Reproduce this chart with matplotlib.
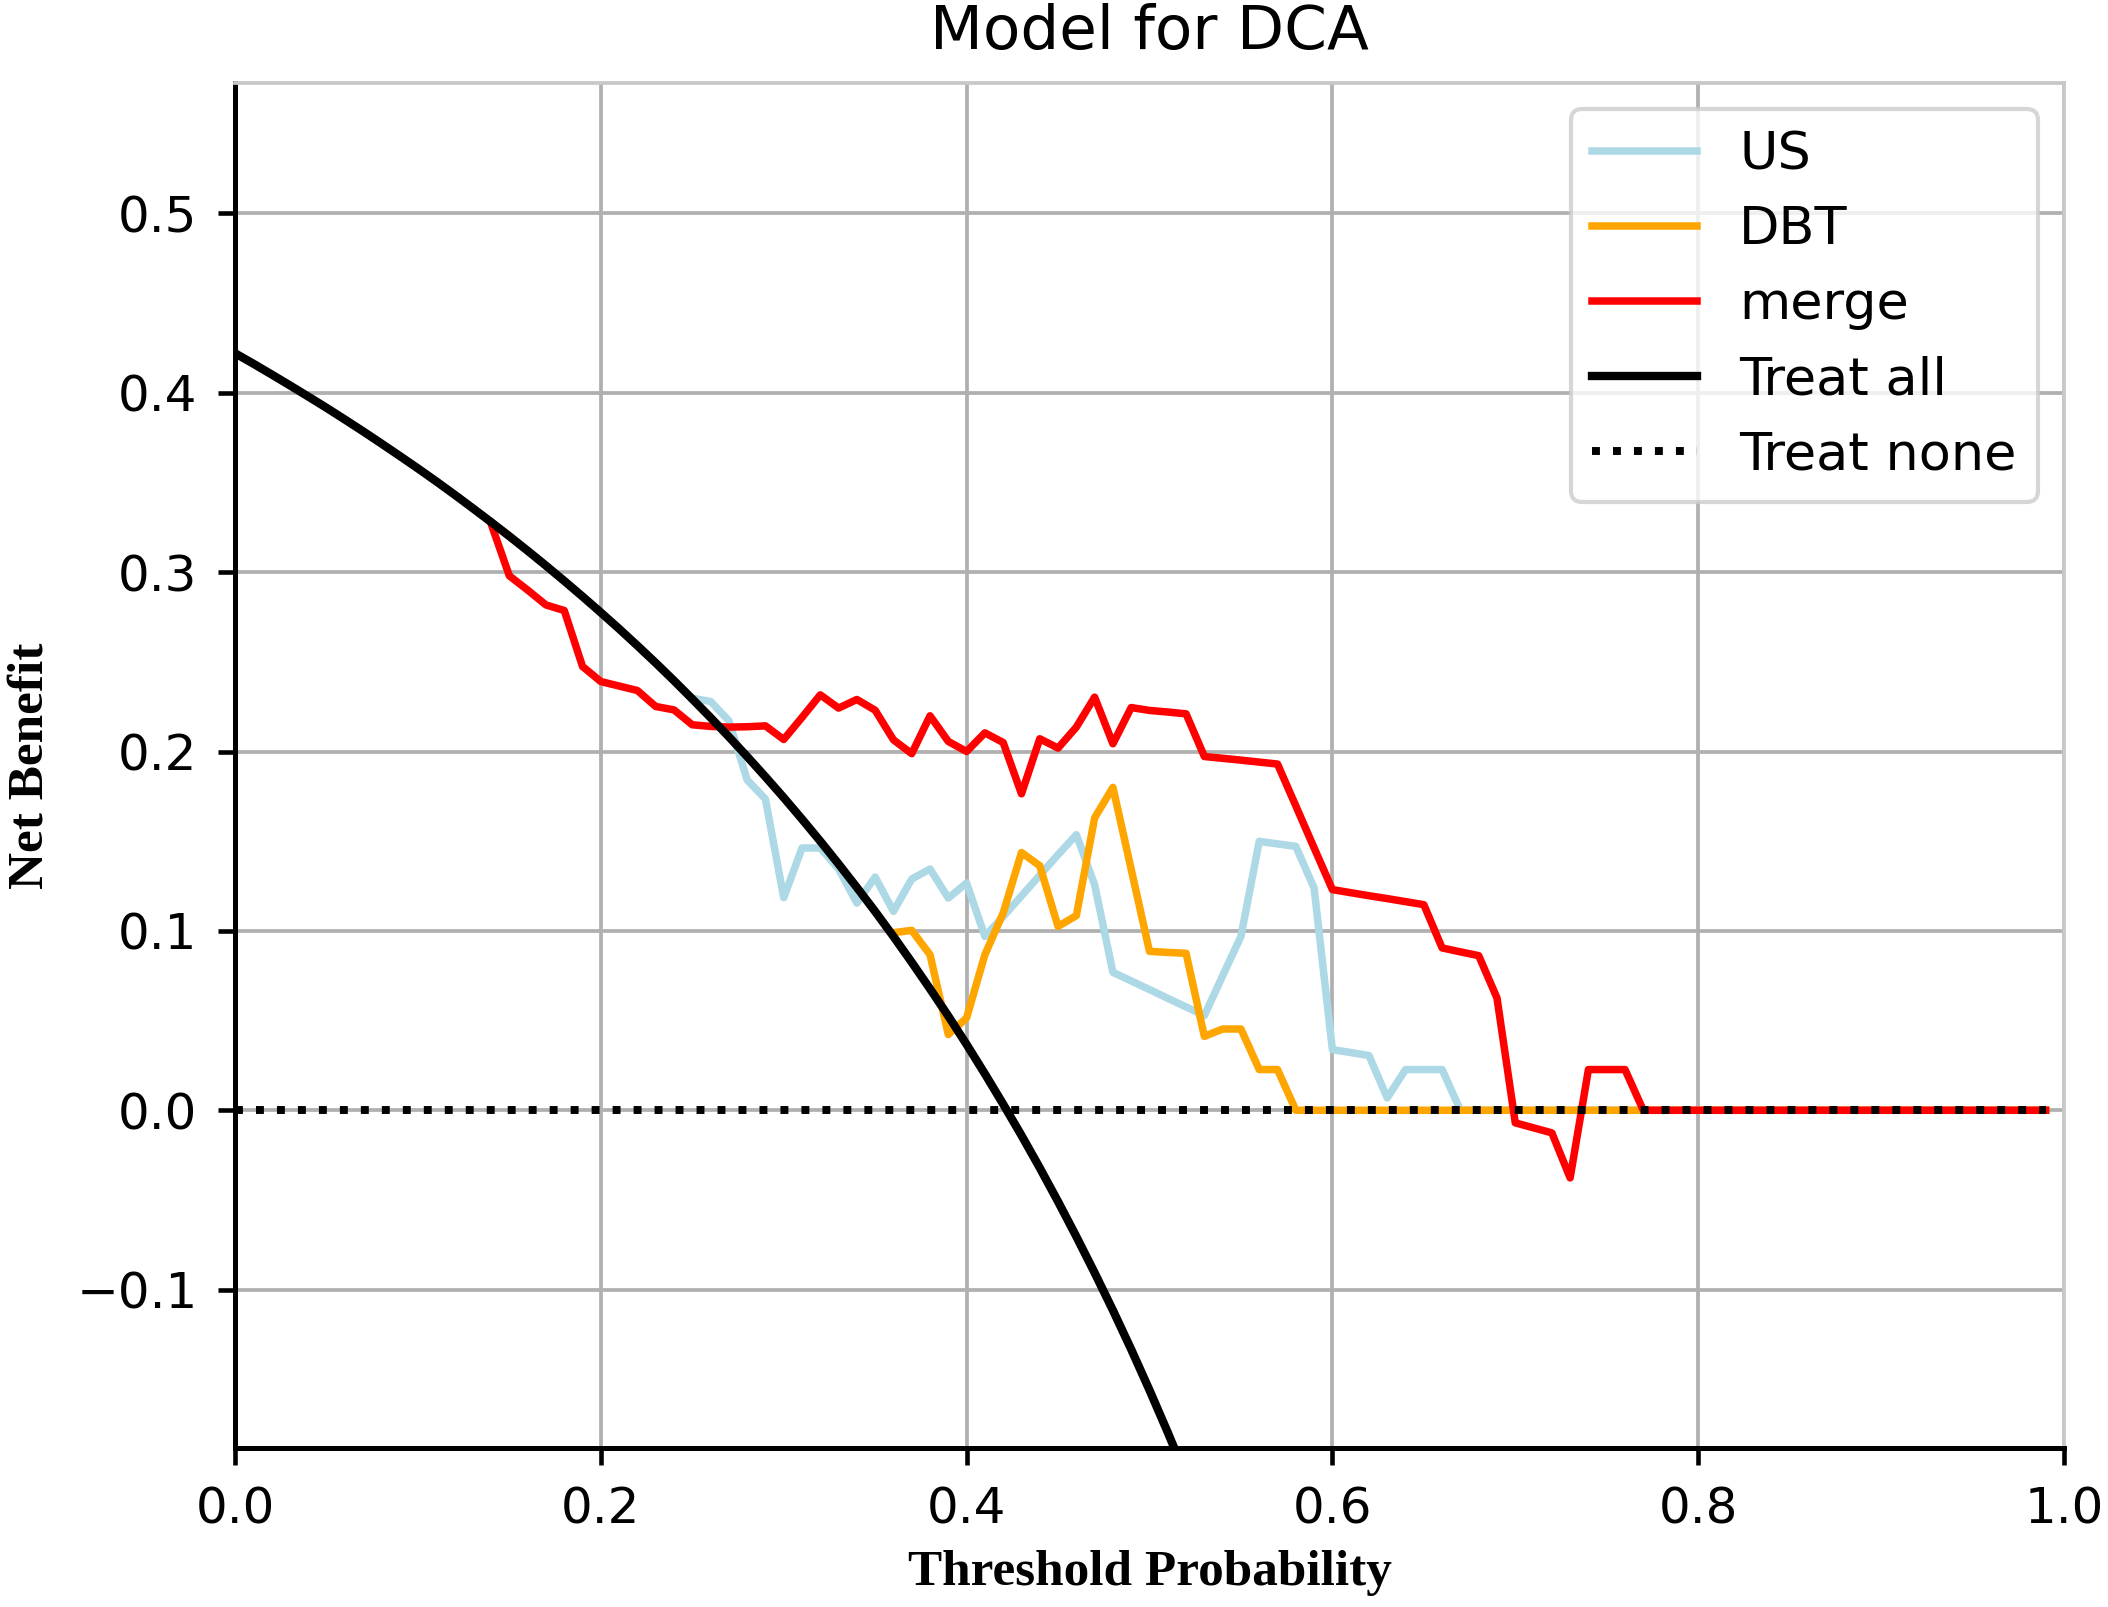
import numpy as np
import matplotlib
matplotlib.use("Agg")
import matplotlib.pyplot as plt

# ---- data ----
thresholds = np.arange(100) / 100.0  # 0.00 ... 0.99

treat_all = [0.4220, 0.4162, 0.4102, 0.4041, 0.3979, 0.3916, 0.3851, 0.3785, 0.3717, 0.3648,
             0.3578, 0.3506, 0.3432, 0.3356, 0.3279, 0.3200, 0.3119, 0.3036, 0.2951, 0.2864,
             0.2775, 0.2684, 0.2590, 0.2494, 0.2395, 0.2293, 0.2189, 0.2082, 0.1972, 0.1859,
             0.1743, 0.1623, 0.1500, 0.1373, 0.1242, 0.1108, 0.0969, 0.0825, 0.0677, 0.0525,
             0.0367, 0.0203, 0.0034, -0.0140, -0.0321, -0.0509, -0.0704, -0.0906, -0.1115, -0.1333,
             -0.1560, -0.1796, -0.2042, -0.2298]

us_start = 25
us_values = [0.2297, 0.2279, 0.2172, 0.1842, 0.1735, 0.1185, 0.1462, 0.1462, 0.1345, 0.1155,
             0.1300, 0.1109, 0.1289, 0.1345, 0.1183, 0.1267, 0.0969, 0.1080, 0.1195, 0.1310,
             0.1425, 0.1536, 0.1257, 0.0769, 0.0721, 0.0673, 0.0624, 0.0576, 0.0528, 0.0750,
             0.0969, 0.1499, 0.1485, 0.1471, 0.1239, 0.0338, 0.0322, 0.0305, 0.0069, 0.0227,
             0.0227, 0.0227] + [0.0] * 33

dbt_start = 36
dbt_values = [0.0990, 0.1003, 0.0867, 0.0422, 0.0515, 0.0867, 0.1100, 0.1437, 0.1363, 0.1025,
              0.1085, 0.1630, 0.1800, 0.1343, 0.0886, 0.0880, 0.0875, 0.0412, 0.0453, 0.0453,
              0.0227, 0.0227] + [0.0] * 42

merge_start = 14
merge_values = [0.3270, 0.2979, 0.2900, 0.2817, 0.2786, 0.2474, 0.2390, 0.2365, 0.2340, 0.2251,
                0.2232, 0.2149, 0.2140, 0.2136, 0.2138, 0.2143, 0.2067, 0.2190, 0.2316, 0.2242,
                0.2290, 0.2230, 0.2065, 0.1988, 0.2199, 0.2056, 0.2000, 0.2104, 0.2050, 0.1764,
                0.2071, 0.2019, 0.2136, 0.2303, 0.2043, 0.2245, 0.2229, 0.2220, 0.2210, 0.1972,
                0.1962, 0.1952, 0.1941, 0.1930, 0.1697, 0.1463, 0.1230, 0.1213, 0.1196, 0.1180,
                0.1163, 0.1146, 0.0905, 0.0883, 0.0862, 0.0626, -0.0070, -0.0098, -0.0126, -0.0377,
                0.0227, 0.0227, 0.0227] + [0.0] * 23

treat_none = [0.0] * 100

x_ticks = [0.0, 0.2, 0.4, 0.6, 0.8, 1.0]
y_ticks = [-0.1, 0.0, 0.1, 0.2, 0.3, 0.4, 0.5]

# ---- figure ----
fig = plt.figure(figsize=(2108 / 300, 1607 / 300), dpi=300)
ax = fig.add_axes([0.1115, 0.0988, 0.9791 - 0.1115, 0.9485 - 0.0988])

ax.plot(thresholds[us_start:], us_values, color="lightblue", lw=1.8, label="US")
ax.plot(thresholds[dbt_start:], dbt_values, color="orange", lw=1.8, label="DBT")
ax.plot(thresholds[merge_start:], merge_values, color="red", lw=1.8, label="merge")
ax.plot(thresholds[:len(treat_all)], treat_all, color="black", lw=2.0, label="Treat all")
ax.plot(thresholds, treat_none, color="black", lw=1.9, linestyle=":", label="Treat none")

ax.set_xlim(0.0, 1.0)
ax.set_ylim(-0.1884, 0.5728)
ax.set_xticks(x_ticks)
ax.set_yticks(y_ticks)
ax.grid(True, color="#b0b0b0", lw=0.9)
ax.set_axisbelow(True)

for side in ("left", "bottom"):
    ax.spines[side].set_color("black")
    ax.spines[side].set_linewidth(1.2)
for side in ("top", "right"):
    ax.spines[side].set_color("#c8c8c8")
    ax.spines[side].set_linewidth(0.9)

ax.tick_params(axis="both", labelsize=12, length=4, width=1.1, pad=5, direction="out")

ax.set_title("Model for DCA", fontsize=14.7, pad=8)
ax.set_xlabel("Threshold Probability", fontsize=12.3, fontweight="bold",
              family=["Liberation Serif", "DejaVu Serif"], labelpad=4)
ax.set_ylabel("Net Benefit", fontsize=12.3, fontweight="bold",
              family=["Liberation Serif", "DejaVu Serif"], labelpad=5.5)

ax.legend(loc="upper right", fontsize=12.6, handlelength=2.0, labelspacing=0.48)

fig.savefig("out.png", dpi=300)
